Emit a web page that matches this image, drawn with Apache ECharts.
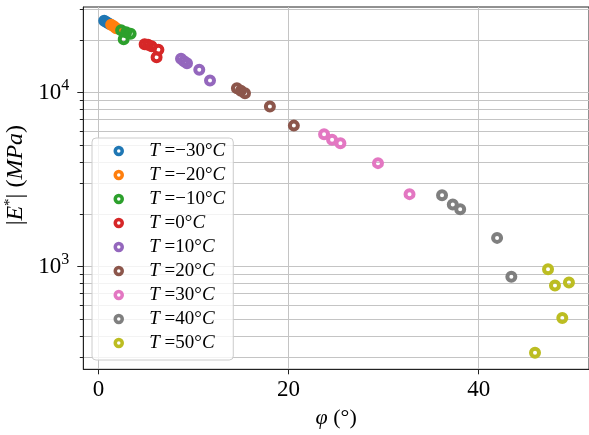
<!DOCTYPE html>
<html><head><meta charset="utf-8">
<script src="https://cdn.jsdelivr.net/npm/echarts@6/dist/echarts.min.js"></script>
<style>html,body{margin:0;padding:0;background:#fff}#c{width:589px;height:435px}</style>
</head><body><div id="c"></div>
<script>
const temperatures = ['−30', '−20', '−10', '0', '10', '20', '30', '40', '50'];
const colors = ['#1f77b4', '#ff7f0e', '#2ca02c', '#d62728', '#9467bd', '#8c564b', '#e377c2', '#7f7f7f', '#bcbd22'];

const phi_m30 = [0.60, 0.86, 1.12];
const E_m30   = [25820, 25310, 24820];
const phi_m20 = [1.33, 1.60, 1.86];
const E_m20   = [24490, 24020, 23390];
const phi_m10 = [2.38, 2.91, 3.38, 2.65];
const E_m10   = [22780, 22180, 21750, 20220];
const phi_0   = [4.85, 5.21, 5.58, 6.30, 6.11];
const E_0     = [18950, 18800, 18450, 17600, 15970];
const phi_10  = [8.68, 9.00, 9.31, 10.60, 11.73];
const E_10    = [15620, 15110, 14720, 13510, 11720];
const phi_20  = [14.56, 14.98, 15.41, 18.03, 20.55];
const E_20    = [10570, 10230, 9895, 8310, 6455];
const phi_30  = [23.73, 24.57, 25.45, 29.40, 32.72];
const E_30    = [5767, 5349, 5120, 3930, 2608];
const phi_40  = [36.14, 37.27, 38.05, 41.93, 43.43];
const E_40    = [2566, 2272, 2138, 1462, 873];
const phi_50  = [47.29, 48.02, 49.49, 48.79, 45.92];
const E_50    = [966, 778, 809, 507, 320];

const phiSets = [phi_m30, phi_m20, phi_m10, phi_0, phi_10, phi_20, phi_30, phi_40, phi_50];
const modSets = [E_m30, E_m20, E_m10, E_0, E_10, E_20, E_30, E_40, E_50];

const xTicks = [0, 20, 40];
const yMajorTicks = [1000, 10000];
const yMinorTicks = [300, 400, 500, 600, 700, 800, 900, 2000, 3000, 4000, 5000, 6000, 7000, 8000, 9000, 20000, 30000];

const FONT = 'Liberation Serif';
const names = temperatures.map(t => 'T=' + t);

const series = names.map((n, i) => ({
  name: n,
  type: 'scatter',
  symbol: 'circle',
  symbolSize: 8,
  itemStyle: { color: 'rgba(255,255,255,0)', borderColor: colors[i], borderWidth: 4, opacity: 1 },
  data: phiSets[i].map((p, k) => [p, modSets[i][k]])
}));

const chart = echarts.init(document.getElementById('c'));
chart.setOption({
  animation: false,
  backgroundColor: '#fff',
  grid: { left: 83.3, right: 0, top: 7, bottom: 65.7, show: true, borderColor: '#222', borderWidth: 1, outerBoundsMode: 'none' },
  legend: {
    orient: 'vertical', left: 92, top: 138,
    padding: [3, 8, 7, 21.5],
    itemWidth: 7, itemHeight: 7, itemGap: 4,
    backgroundColor: 'rgba(255,255,255,0.8)', borderColor: '#cccccc', borderWidth: 1, borderRadius: 4,
    data: names.map((n, i) => ({ name: n, icon: 'circle', itemStyle: { color: '#fff', borderColor: colors[i], borderWidth: 3.5 } })),
    formatter: function (name) {
      const t = temperatures[names.indexOf(name)];
      return '{i|T} =' + t + '°{i|C}';
    },
    textStyle: {
      fontFamily: FONT, fontSize: 19, color: '#000', lineHeight: 20, padding: [0, 0, 0, 22],
      rich: { i: { fontFamily: FONT, fontSize: 19, fontStyle: 'italic', color: '#000', lineHeight: 20 } }
    }
  },
  xAxis: {
    type: 'value', min: -1.6, max: 51.6,
    name: '{i|φ} (°)', nameLocation: 'middle', nameGap: 38,
    nameTextStyle: { fontFamily: FONT, fontSize: 22, color: '#000', rich: { i: { fontFamily: FONT, fontSize: 22, fontStyle: 'italic', color: '#000' } } },
    axisLine: { show: true, onZero: false, lineStyle: { color: '#222', width: 1 } },
    axisTick: { show: true, length: 5, customValues: xTicks, lineStyle: { color: '#222' } },
    axisLabel: { customValues: xTicks, fontFamily: FONT, fontSize: 23, color: '#000', margin: 9 },
    splitLine: { show: true, lineStyle: { color: '#c4c4c4', width: 1 } }
  },
  yAxis: [{
    type: 'log', logBase: 10, min: 257, max: 31000,
    name: '{n||}{i|E}{s|*}{n|| (}{i|MPa}{n|)}', nameLocation: 'middle', nameRotate: 90, nameGap: 39,
    nameTextStyle: {
      fontFamily: FONT, fontSize: 24, color: '#000', padding: [0, 0, 0, 26],
      rich: {
        n: { fontFamily: FONT, fontSize: 24, color: '#000' },
        i: { fontFamily: FONT, fontSize: 24, fontStyle: 'italic', color: '#000' },
        s: { fontFamily: FONT, fontSize: 15, color: '#000', padding: [0, 0, 11, 0] }
      }
    },
    axisLine: { show: true, onZero: false, lineStyle: { color: '#222', width: 1 } },
    axisTick: { show: true, length: 6, customValues: yMajorTicks, lineStyle: { color: '#222' } },
    axisLabel: {
      customValues: yMajorTicks, margin: 14,
      formatter: function (v) { return '{b|10}{s|' + Math.round(Math.log10(v)) + '}'; },
      rich: {
        b: { fontFamily: FONT, fontSize: 23, color: '#000', lineHeight: 23 },
        s: { fontFamily: FONT, fontSize: 16, color: '#000', lineHeight: 16, padding: [0, 0, 14, 0] }
      }
    },
    splitLine: { show: true, lineStyle: { color: '#c4c4c4', width: 1 } }
  }, {
    type: 'log', logBase: 10, min: 257, max: 31000, position: 'left', offset: 0,
    axisLine: { show: false, onZero: false },
    axisTick: { show: true, length: 3.5, customValues: yMinorTicks, lineStyle: { color: '#222' } },
    axisLabel: { show: false },
    splitLine: { show: true, lineStyle: { color: '#c4c4c4', width: 1 } }
  }],
  series: series
});
</script></body></html>
